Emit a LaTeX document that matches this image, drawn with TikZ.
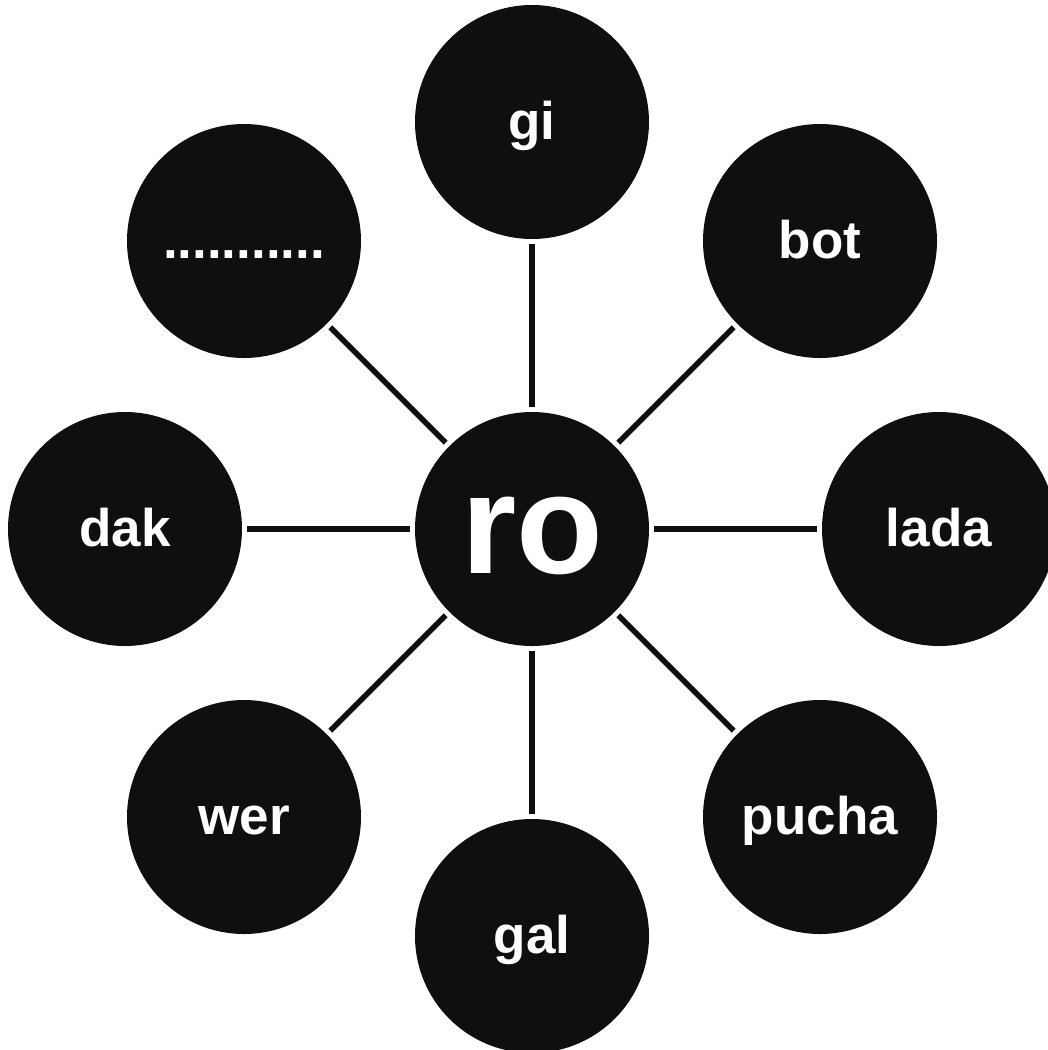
\documentclass[tikz,border=0pt]{standalone}
\usepackage{fontspec}
\setmainfont{Liberation Sans}
\definecolor{ink}{RGB}{15,15,15}
\begin{document}
\begin{tikzpicture}[x=1pt,y=-1pt,
  bubble/.style={circle, fill=ink, minimum size=234pt, inner sep=0pt, outer sep=5pt,
    text=white, font=\fontsize{53}{60}\bfseries\selectfont, text height=34pt, text depth=0pt},
  hub/.style={bubble, font=\fontsize{142}{160}\bfseries\selectfont, text height=88pt},
  link/.style={draw=ink, line width=5.5pt}]
\useasboundingbox (0,0) rectangle (1048,1050);
\node[hub] (ro) at (532,529) {ro};
\node[bubble] (gi) at (532,122) {gi};
\node[bubble] (bot) at (820,241) {bot};
\node[bubble] (lada) at (939,529) {lada};
\node[bubble] (pucha) at (820,817) {pucha};
\node[bubble] (gal) at (532,936) {gal};
\node[bubble] (wer) at (244,817) {wer};
\node[bubble] (dak) at (125,529) {dak};
\node[bubble] (dots) at (244,241) {...........};
\foreach \n in {gi,bot,lada,pucha,gal,wer,dak,dots}
  \draw[link] (ro) -- (\n);
\end{tikzpicture}
\end{document}
